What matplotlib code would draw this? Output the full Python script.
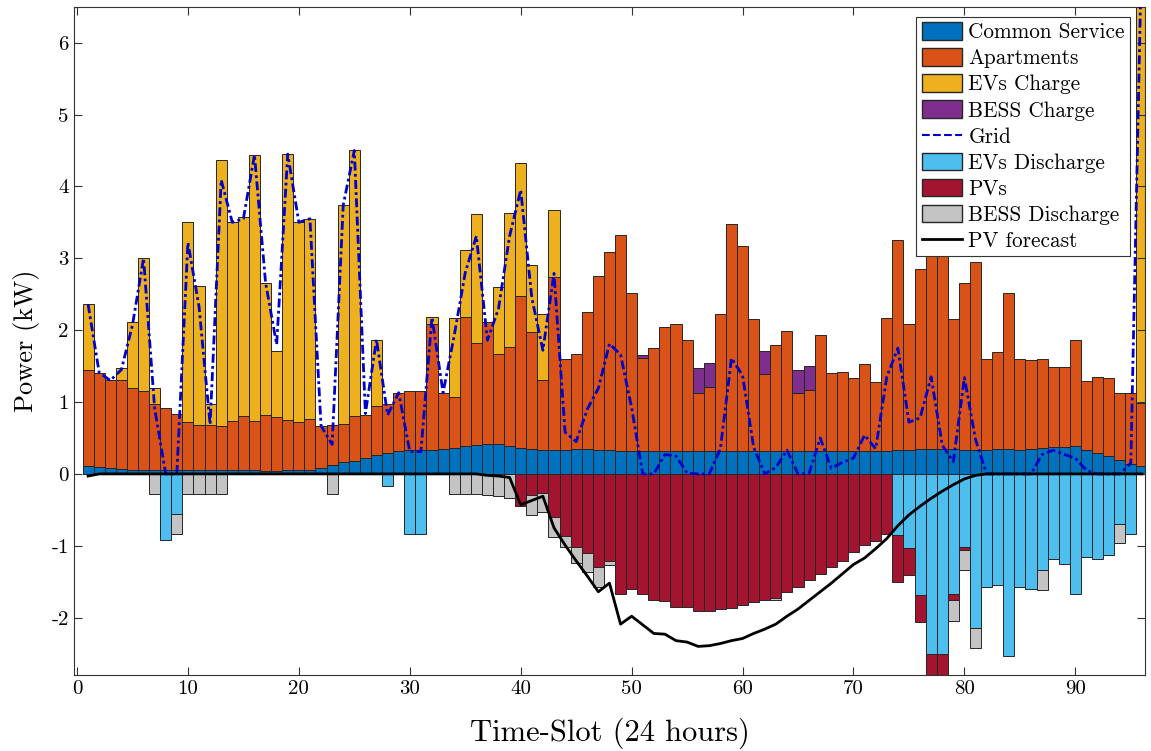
import numpy as np
import matplotlib
matplotlib.use("Agg")
import matplotlib.pyplot as plt
from matplotlib.patches import Patch
from matplotlib.lines import Line2D

plt.rcParams["font.family"] = ["cmr10", "DejaVu Serif"]
plt.rcParams["axes.unicode_minus"] = False
plt.rcParams["mathtext.fontset"] = "cm"

# Time slots 1..96
slots = list(range(1, 97))

common_service = [
    0.11, 0.09, 0.08, 0.07, 0.06, 0.06, 0.06, 0.06, 0.06, 0.06,
    0.05, 0.05, 0.05, 0.05, 0.05, 0.05, 0.04, 0.04, 0.05, 0.05,
    0.05, 0.08, 0.12, 0.16, 0.18, 0.22, 0.26, 0.29, 0.32, 0.33,
    0.33, 0.33, 0.34, 0.36, 0.39, 0.40, 0.42, 0.41, 0.39, 0.36,
    0.34, 0.33, 0.33, 0.33, 0.34, 0.34, 0.33, 0.33, 0.32, 0.32,
    0.32, 0.32, 0.32, 0.32, 0.32, 0.32, 0.32, 0.32, 0.32, 0.32,
    0.32, 0.32, 0.32, 0.32, 0.32, 0.32, 0.32, 0.32, 0.32, 0.32,
    0.32, 0.32, 0.32, 0.33, 0.33, 0.34, 0.35, 0.35, 0.34, 0.33,
    0.33, 0.33, 0.34, 0.35, 0.33, 0.34, 0.36, 0.37, 0.38, 0.39,
    0.33, 0.29, 0.25, 0.20, 0.14, 0.11,
]
apartments = [
    1.34, 1.32, 1.22, 1.24, 1.13, 1.09, 0.91, 0.86, 0.78, 0.66,
    0.63, 0.63, 0.62, 0.69, 0.75, 0.69, 0.78, 0.75, 0.70, 0.67,
    0.72, 0.59, 0.56, 0.53, 0.62, 0.60, 0.68, 0.68, 0.81, 0.82,
    0.82, 1.76, 0.79, 0.71, 1.79, 1.42, 1.70, 1.26, 1.38, 2.12,
    1.64, 0.98, 2.41, 1.27, 1.33, 1.91, 2.42, 2.76, 3.00, 2.20,
    1.29, 1.43, 1.72, 1.77, 1.54, 0.81, 0.89, 1.91, 3.16, 2.85,
    1.83, 1.07, 1.48, 1.67, 0.80, 0.85, 1.61, 1.08, 1.10, 1.01,
    1.21, 0.96, 1.85, 2.92, 1.76, 2.51, 2.85, 2.75, 1.81, 2.33,
    2.62, 1.27, 1.35, 2.17, 1.27, 1.24, 1.24, 1.12, 1.11, 1.47,
    0.96, 1.06, 1.08, 0.93, 0.99, 0.87,
]
ev_charge = [
    0.91, 0, 0, 0.17, 0.92, 1.85, 0.22, 0, 0, 2.78,
    1.93, 0.29, 3.70, 2.76, 2.78, 3.70, 1.84, 0.92, 3.70, 2.78,
    2.78, 0, 0, 3.05, 3.70, 0, 0.93, 0, 0, 0,
    0, 0.09, 0, 1.10, 0.94, 1.79, 0, 0.93, 1.86, 1.85,
    0.93, 0.92, 0.93, 0, 0, 0, 0, 0, 0, 0,
    0, 0, 0, 0, 0, 0, 0, 0, 0, 0,
    0, 0, 0, 0, 0, 0, 0, 0, 0, 0,
    0, 0, 0, 0, 0, 0, 0, 0, 0, 0,
    0, 0, 0, 0, 0, 0, 0, 0, 0, 0,
    0, 0, 0, 0, 0, 6.52,
]
bess_charge = [0] * 50 + [0.05, 0, 0, 0, 0, 0.34, 0.33, 0, 0, 0,
                          0, 0.32, 0, 0, 0.33, 0.33] + [0] * 30
ev_discharge = [
    0, 0, 0, 0, 0, 0, 0, -0.92, -0.56, 0,
    0, 0, 0, 0, 0, 0, 0, 0, 0, 0,
    0, 0, 0, 0, 0, 0, 0, -0.17, 0, -0.84,
    -0.84, 0, 0, 0, 0, 0, 0, 0, 0, 0,
    0, 0, 0, 0, 0, 0, 0, 0, 0, 0,
    0, 0, 0, 0, 0, 0, 0, 0, 0, 0,
    0, 0, 0, 0, 0, 0, 0, 0, 0, 0,
    0, 0, 0, -0.85, -1.03, -1.69, -2.50, -2.50, -1.67, -1.02,
    -2.14, -1.58, -1.55, -2.53, -1.58, -1.60, -1.33, -1.18, -1.26, -1.67,
    -1.15, -1.18, -1.13, -0.69, -0.84, 0,
]
pv = [0] * 39 + [
    -0.44, -0.30, -0.27, -0.60, -0.86, -1.02, -1.10, -1.30, -1.21, -1.67,
    -1.60, -1.67, -1.76, -1.77, -1.85, -1.85, -1.91, -1.91, -1.88, -1.87,
    -1.82, -1.78, -1.75, -1.72, -1.64, -1.58, -1.48, -1.39, -1.30, -1.21,
    -1.09, -0.99, -0.93, -0.83, -0.65, -0.38, -0.37, -0.40, -0.40, -0.09,
    -0.04,
] + [0] * 16
bess_discharge = [
    0, 0, 0, 0, 0, 0, -0.28, 0, -0.28, -0.28,
    -0.28, -0.28, -0.28, 0, 0, 0, 0, 0, 0, 0,
    0, 0, -0.28, 0, 0, 0, 0, 0, 0, 0,
    0, 0, 0, -0.28, -0.28, -0.28, -0.30, -0.31, -0.33, 0,
    -0.27, -0.26, -0.28, -0.16, -0.22, -0.26, -0.28, -0.06, 0, 0,
    0, 0, 0, 0, 0, 0, 0, 0, 0, 0,
    0, 0, -0.03, 0, 0, 0, 0, 0, 0, 0,
    0, 0, 0, 0, 0, 0, 0, 0, -0.28, -0.27,
    -0.28, 0, 0, 0, 0, 0, -0.28, 0, 0, 0,
    0, 0, 0, -0.27, 0, 0,
]
grid = [
    2.36, 1.41, 1.30, 1.45, 2.07, 3.00, 0.91, 0.00, 0.00, 3.22,
    2.33, 0.69, 4.09, 3.50, 3.55, 4.44, 2.66, 1.80, 4.45, 3.50,
    3.55, 0.67, 0.41, 3.74, 4.50, 0.84, 1.87, 0.82, 1.13, 0.31,
    0.31, 2.18, 1.13, 1.92, 2.80, 3.31, 1.86, 2.30, 3.31, 3.95,
    2.45, 1.72, 2.79, 0.58, 0.45, 0.90, 1.19, 1.81, 1.66, 0.92,
    0.00, 0.00, 0.27, 0.25, 0.01, 0.00, 0.00, 0.35, 1.61, 1.37,
    0.37, 0.00, 0.09, 0.33, 0.00, 0.01, 0.50, 0.08, 0.16, 0.22,
    0.54, 0.35, 1.35, 1.75, 0.72, 0.78, 1.35, 0.40, 0.17, 1.34,
    0.48, 0.00, 0.00, 0.00, 0.00, 0.00, 0.27, 0.33, 0.27, 0.22,
    0.05, 0.00, 0.00, 0.00, 0.15, 7.50,
]
pv_forecast = [-0.03] + [0] * 35 + [
    -0.02, -0.03, -0.05, -0.43, -0.37, -0.31, -0.75, -0.99, -1.21, -1.42,
    -1.64, -1.52, -2.09, -1.98, -2.10, -2.22, -2.23, -2.32, -2.34, -2.40,
    -2.39, -2.36, -2.32, -2.29, -2.22, -2.16, -2.09, -1.98, -1.88, -1.76,
    -1.64, -1.52, -1.39, -1.26, -1.17, -1.04, -0.90, -0.72, -0.57, -0.45,
    -0.34, -0.24, -0.15, -0.07, -0.02,
] + [0] * 15

COLORS = {
    "Common Service": "#0072BD",
    "Apartments": "#D95319",
    "EVs Charge": "#EDB120",
    "BESS Charge": "#7E2F8E",
    "EVs Discharge": "#4DBEEE",
    "PVs": "#A2142F",
    "BESS Discharge": "#C4C4C4",
}
EDGE = "#262626"

fig = plt.figure(figsize=(11.51, 7.51), dpi=100)
ax = fig.add_axes([0.064, 0.101, 0.931, 0.890])

x = np.array(slots)
bar_kw = dict(width=1.0, edgecolor=EDGE, linewidth=0.7)

# Positive stack
pos_series = [
    ("Common Service", common_service),
    ("Apartments", apartments),
    ("EVs Charge", ev_charge),
    ("BESS Charge", bess_charge),
]
bottom = np.zeros(len(x))
for name, vals in pos_series:
    vals = np.array(vals, dtype=float)
    m = vals != 0
    ax.bar(x[m], vals[m], bottom=bottom[m], color=COLORS[name], **bar_kw)
    bottom += vals

# Negative stack
neg_series = [
    ("EVs Discharge", ev_discharge),
    ("PVs", pv),
    ("BESS Discharge", bess_discharge),
]
bottom = np.zeros(len(x))
for name, vals in neg_series:
    vals = np.array(vals, dtype=float)
    m = vals != 0
    ax.bar(x[m], vals[m], bottom=bottom[m], color=COLORS[name], **bar_kw)
    bottom += vals

grid_style = (0, (3.2, 1.2, 1.0, 1.2))
ax.plot(x, grid, linestyle=grid_style, color="#0000CC", linewidth=2.0, zorder=4)
ax.plot(x, pv_forecast, color="black", linewidth=2.0, zorder=4)

ax.set_xlim(-0.3, 96.3)
ax.set_ylim(-2.8, 6.5)
ax.set_xticks(range(0, 100, 10))
ax.set_yticks(range(-2, 7))
ax.tick_params(direction="in", top=True, right=True, labelsize=15, length=6,
               width=0.8, color="#333333")
for s in ax.spines.values():
    s.set_linewidth(0.8)
    s.set_color("#333333")

ax.set_xlabel("Time-Slot (24 hours)", fontsize=22, labelpad=14)
ax.set_ylabel("Power (kW)", fontsize=19, labelpad=8)

handles = [
    Patch(facecolor=COLORS["Common Service"], edgecolor=EDGE, label="Common Service"),
    Patch(facecolor=COLORS["Apartments"], edgecolor=EDGE, label="Apartments"),
    Patch(facecolor=COLORS["EVs Charge"], edgecolor=EDGE, label="EVs Charge"),
    Patch(facecolor=COLORS["BESS Charge"], edgecolor=EDGE, label="BESS Charge"),
    Line2D([], [], linestyle="--", color="#0000CC", linewidth=1.5, label="Grid"),
    Patch(facecolor=COLORS["EVs Discharge"], edgecolor=EDGE, label="EVs Discharge"),
    Patch(facecolor=COLORS["PVs"], edgecolor=EDGE, label="PVs"),
    Patch(facecolor=COLORS["BESS Discharge"], edgecolor=EDGE, label="BESS Discharge"),
    Line2D([], [], color="black", linewidth=2, label="PV forecast"),
]
leg = ax.legend(handles=handles, loc="upper right", fontsize=15.3, frameon=True,
                fancybox=False, edgecolor="#333333", framealpha=1,
                borderpad=0.25, labelspacing=0.28, handlelength=1.9,
                handleheight=0.9, handletextpad=0.3, borderaxespad=0,
                bbox_to_anchor=(0.986, 0.985))
leg.get_frame().set_linewidth(0.8)

fig.savefig("out.png", dpi=100)
